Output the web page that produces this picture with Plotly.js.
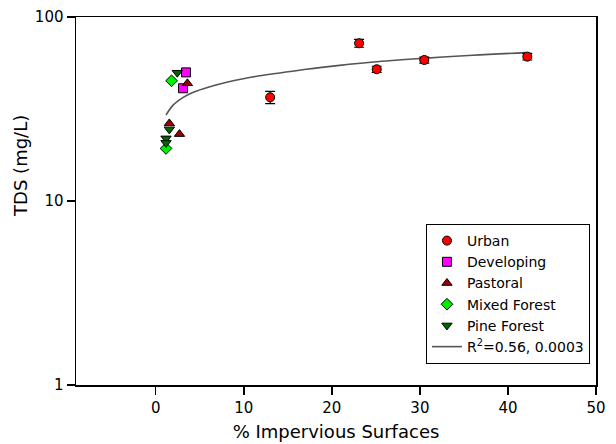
<!DOCTYPE html>
<html>
<head>
<meta charset="utf-8">
<script src="https://cdn.plot.ly/plotly-3.0.1.min.js"></script>
<style>html,body{margin:0;padding:0;background:#fff;}#chart{width:616px;height:444px;}</style>
</head>
<body>
<div id="chart"></div>
<script>
// Urban
const urbanX = [13.0, 23.1, 25.1, 30.5, 42.2];
const urbanY = [36.6, 72, 52, 58.4, 60.9];
const urbanErr = [2.8, 3.5, 2.0, 2.2, 2.5];
// Developing
const devX = [3.44, 3.1];
const devY = [50, 41];
// Pastoral
const pastX = [3.6, 1.55, 2.7];
const pastY = [43.6, 26.4, 23.1];
// Mixed Forest
const mixX = [1.8, 1.17];
const mixY = [45, 19.3];
// Pine Forest
const pineX = [2.45, 1.55, 1.17, 1.17];
const pineY = [49.8, 24.5, 21.9, 20.7];
// Fitted curve
const fitX = [1.17, 2.0, 3.13, 4.27, 6.16, 8.06, 9.94, 11.8, 13.9, 17.1, 20.9, 24.7, 30.4, 36.0, 42.1];
const fitY = [29.3, 33.3, 36.6, 39.0, 41.8, 44.2, 46.2, 47.9, 49.5, 52.0, 54.6, 56.9, 59.6, 62.0, 64.0];

const mk = (sym, col) => ({symbol: sym, size: 9, color: col, line: {color: '#000', width: 1}});

const data = [
  {x: fitX, y: fitY, mode: 'lines', type: 'scatter', name: 'R<sup>2</sup>=0.56, 0.0003',
   line: {color: '#555', width: 1.6, shape: 'spline'}, legendrank: 6},
  {x: urbanX, y: urbanY, mode: 'markers', type: 'scatter', name: 'Urban', legendrank: 1,
   marker: mk('circle', '#ff0000'),
   error_y: {type: 'data', array: urbanErr, visible: true, color: '#000', thickness: 1.2, width: 5}},
  {x: devX, y: devY, mode: 'markers', type: 'scatter', name: 'Developing', legendrank: 2,
   marker: mk('square', '#ff00ff')},
  {x: pastX, y: pastY, mode: 'markers', type: 'scatter', name: 'Pastoral', legendrank: 3,
   marker: mk('triangle-up', '#990000')},
  {x: mixX, y: mixY, mode: 'markers', type: 'scatter', name: 'Mixed Forest', legendrank: 4,
   marker: mk('diamond', '#00ee00')},
  {x: pineX, y: pineY, mode: 'markers', type: 'scatter', name: 'Pine Forest', legendrank: 5,
   marker: mk('triangle-down', '#006600')}
];

const layout = {
  width: 616, height: 444,
  margin: {l: 76, r: 20, t: 17, b: 59},
  paper_bgcolor: '#fff', plot_bgcolor: '#fff',
  font: {family: 'DejaVu Sans, sans-serif', color: '#000', size: 15},
  showlegend: true,
  legend: {x: 0.673, y: 0.057, xanchor: 'left', yanchor: 'bottom',
    bordercolor: '#000', borderwidth: 1, bgcolor: '#fff',
    font: {size: 14}, tracegroupgap: 0, itemwidth: 30},
  xaxis: {range: [-9.05, 50], tickvals: [0, 10, 20, 30, 40, 50],
    ticks: 'outside', ticklen: 8, tickwidth: 1.5, tickcolor: '#000',
    showline: true, linecolor: '#000', linewidth: 1.5, mirror: true,
    showgrid: false, zeroline: false, tickfont: {size: 15},
    title: {text: '% Impervious Surfaces', font: {size: 18}, standoff: 10}},
  yaxis: {type: 'log', range: [0, 2], tickvals: [1, 10, 100], ticktext: ['1', '10', '100'],
    ticks: 'outside', ticklen: 8, tickwidth: 1.5, tickcolor: '#000',
    showline: true, linecolor: '#000', linewidth: 1.5, mirror: true,
    showgrid: false, zeroline: false, tickfont: {size: 15}},
  annotations: [{text: 'TDS (mg/L)', textangle: -90, xref: 'paper', yref: 'paper',
    x: -0.108, y: 0.595, xanchor: 'center', yanchor: 'middle', showarrow: false,
    font: {size: 18}}]
};

Plotly.newPlot('chart', data, layout, {displayModeBar: false, staticPlot: true});
</script>
</body>
</html>
